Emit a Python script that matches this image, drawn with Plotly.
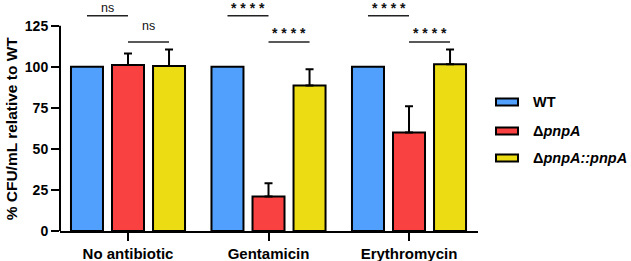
import plotly.graph_objects as go

categories = ["No antibiotic", "Gentamicin", "Erythromycin"]
series_names = ["WT", "Δ<i>pnpA</i>", "Δ<i>pnpA::pnpA</i>"]
wt = [100, 100, 100]
mut = [101, 21, 60]
mut_err = [7, 8, 16]
comp = [100.5, 88.5, 101.5]
comp_err = [10, 10, 9]
colors = ["#52a0fe", "#fa4141", "#ebdc14"]
y_ticks = [0, 25, 50, 75, 100, 125]

# significance: (group index, from slot, to slot, row, label)
sig = [
    (0, 0, 1, 0, "ns"), (0, 1, 2, 1, "ns"),
    (1, 0, 1, 0, "* * * *"), (1, 1, 2, 1, "* * * *"),
    (2, 0, 1, 0, "* * * *"), (2, 1, 2, 1, "* * * *"),
]
sig_line_y = [131, 115]
ns_text_y = [136, 124.5]
star_text_y = [135.5, 120.5]

BARGAP = 0.124
YMAX = 140
XR = [-0.484, 2.491]
FONT = "Liberation Sans, Arial, sans-serif"

W, H = 631, 261
ml, mr, mt, mb = 60, 153, 1, 30
pw, ph = W - ml - mr, H - mt - mb


def px_x(px):
    return (px - ml) / pw


def px_y(py):
    return (H - mb - py) / ph


fig = go.Figure()
vals = [wt, mut, comp]
errs = [None, mut_err, comp_err]
for name, v, e, c in zip(series_names, vals, errs, colors):
    kw = {}
    if e is not None:
        kw["error_y"] = dict(type="data", array=e, symmetric=False, arrayminus=[0]*len(e),
                             color="black", thickness=2, width=4)
    fig.add_trace(go.Bar(x=categories, y=v, name=name, marker=dict(color=c, line=dict(color="black", width=2)),
                         showlegend=False, **kw))

slot = (1 - BARGAP) / 3
offsets = [-slot, 0, slot]
for g, a, b, row, label in sig:
    xa = g + offsets[a]
    xb = g + offsets[b]
    fig.add_shape(type="line", xref="x", yref="y", x0=xa, x1=xb, y0=sig_line_y[row], y1=sig_line_y[row],
                  line=dict(color="#222", width=1.5))
    is_ns = label == "ns"
    ty = ns_text_y[row] if is_ns else star_text_y[row]
    fig.add_annotation(x=(xa + xb) / 2, y=ty / YMAX, xref="x", yref="paper", text=label,
                       showarrow=False, yanchor="middle",
                       font=dict(family=FONT, size=12.5 if is_ns else 14, color="#111",
                                 weight="normal" if is_ns else "bold"))

# y axis line only up to 125
fig.add_shape(type="line", xref="paper", yref="y", x0=0, x1=0, y0=0, y1=y_ticks[-1],
              line=dict(color="black", width=2))

# y title
fig.add_annotation(x=px_x(11), y=(y_ticks[-1] / 2) / YMAX, xref="paper", yref="paper",
                   text="% CFU/mL relative to WT", textangle=-90, showarrow=False,
                   xanchor="center", yanchor="middle",
                   font=dict(family=FONT, size=15.5, color="black", weight="bold"))

# manual legend
leg_y_px = [102, 131, 158]
for name, c, py in zip(series_names, colors, leg_y_px):
    yc = px_y(py)
    fig.add_shape(type="rect", xref="paper", yref="paper",
                  x0=px_x(496), x1=px_x(518), y0=yc - 3.5 / ph, y1=yc + 3.5 / ph,
                  fillcolor=c, line=dict(color="black", width=2))
    fig.add_annotation(x=px_x(531), y=yc, xref="paper", yref="paper", text=name, showarrow=False,
                       xanchor="left", yanchor="middle",
                       font=dict(family=FONT, size=14.5, color="black", weight="bold"))

fig.update_layout(
    width=W, height=H, margin=dict(l=ml, r=mr, t=mt, b=mb, autoexpand=False),
    barmode="group", bargap=BARGAP, bargroupgap=0.22,
    plot_bgcolor="white", paper_bgcolor="white",
    font=dict(family=FONT, color="black"),
    xaxis=dict(range=XR, showline=True, linecolor="black", linewidth=2, ticks="outside", ticklen=8,
               tickwidth=2, tickcolor="black", showgrid=False, zeroline=False, automargin=False,
               tickfont=dict(family=FONT, size=15, color="black", weight="bold")),
    yaxis=dict(range=[0, YMAX], tickvals=y_ticks, showline=False, ticks="outside", ticklen=8, tickwidth=2,
               tickcolor="black", showgrid=False, zeroline=False, automargin=False,
               tickfont=dict(family=FONT, size=14, color="black", weight="bold")),
)
fig.write_html("out.html", config={"displayModeBar": False},
               post_script="document.body.style.margin='0';")
